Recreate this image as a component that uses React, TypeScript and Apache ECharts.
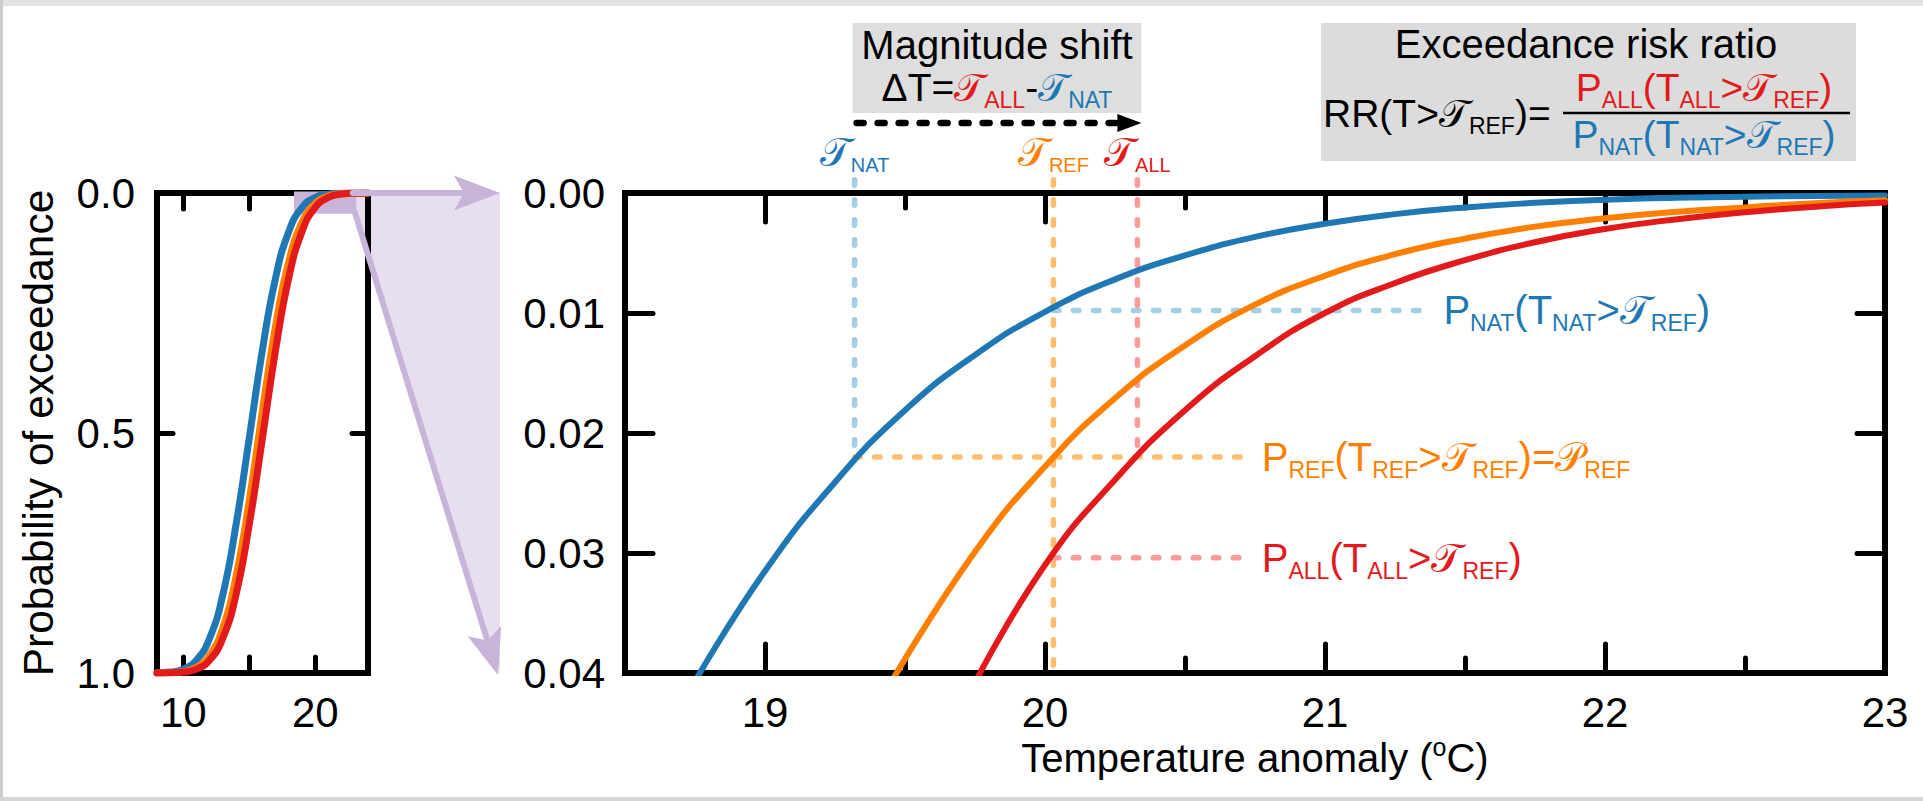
import React, { useEffect, useRef } from 'react';
import * as echarts from 'echarts';

// ---------------- data ----------------
// small (overview) panel: exceedance probability curves
const smallTemps = [8, 9, 10, 11, 12, 13, 14, 15, 16, 17, 18, 19, 20, 21, 22, 23, 24];
const smallNat = [0.9996, 0.998, 0.992, 0.973, 0.927, 0.836, 0.69, 0.51, 0.326, 0.176, 0.08, 0.03, 0.0092, 0.0023, 0.0005, 0.0001, 0.0];
const smallRef = [0.9999, 0.9993, 0.997, 0.988, 0.963, 0.905, 0.798, 0.64, 0.453, 0.276, 0.142, 0.061, 0.0216, 0.0062, 0.0015, 0.0003, 0.0001];
const smallAll = [1.0, 0.9996, 0.998, 0.992, 0.973, 0.927, 0.836, 0.69, 0.51, 0.326, 0.176, 0.08, 0.03, 0.0092, 0.0023, 0.0005, 0.0001];

// main (zoomed) panel
const natTemps = [18.75, 19.0, 19.25, 19.5, 19.75, 20.0, 20.25, 20.5, 20.75, 21.0, 21.25, 21.5, 21.75, 22.0, 22.25, 22.5, 22.75, 23.0];
const natProb = [0.0407, 0.0315, 0.0241, 0.0181, 0.0135, 0.0099, 0.0072, 0.0052, 0.00366, 0.00256, 0.00176, 0.0012, 0.00082, 0.00056, 0.0004, 0.00031, 0.00024, 0.0002];
const refTemps = [19.45, 19.75, 20.0, 20.25, 20.5, 20.75, 21.0, 21.25, 21.5, 21.75, 22.0, 22.25, 22.5, 22.75, 23.0];
const refProb = [0.0408, 0.0299, 0.0228, 0.0171, 0.0127, 0.0093, 0.0069, 0.0051, 0.0038, 0.0028, 0.0021, 0.00158, 0.0012, 0.00085, 0.0006];
const allTemps = [19.75, 20.0, 20.25, 20.5, 20.75, 21.0, 21.25, 21.5, 21.75, 22.0, 22.25, 22.5, 22.75, 23.0];
const allProb = [0.0408, 0.031, 0.0239, 0.0181, 0.0136, 0.01, 0.0075, 0.0056, 0.0041, 0.003, 0.0022, 0.0016, 0.00114, 0.0008];

// thresholds and probabilities
const thresholdTemps = [19.32, 20.03, 20.33]; // T_NAT, T_REF, T_ALL
const thresholdProbs = [0.0098, 0.022, 0.0304]; // P_NAT, P_REF, P_ALL
const guideEnds = [21.38, 20.735]; // end of horizontal guides (NAT, REF/ALL)
const guideTop = [-0.0011];

// axis ranges / ticks
const smallRangeX = [8, 24];
const smallTickRangeX = [10, 20, 5];
const smallRangeY = [0, 1, 0.5];
const zoomRangeX = [18.5, 23, 0.5];
const zoomTickRangeX = [19, 23, 1];
const zoomRangeY = [0, 0.04, 0.01];

// ---------------- styles ----------------
const FONT = "'Liberation Sans', Arial, Helvetica, sans-serif";
const SCRIPT = "'DejaVu Sans', 'Liberation Serif', serif";
const BLUE = '#1f78b4';
const ORANGE = '#ff7f00';
const RED = '#e31a1c';
const LBLUE = '#a6cee3';
const LORANGE = '#fdbf6f';
const LRED = '#fb9a99';
const PURPLE = '#c8b4d8';
const LPURPLE = '#e7dfef';

const zip = (xs: number[], ys: number[]) => xs.map((x, i) => [x, ys[i]]);

function richSet(size: number, sub: number, pad: number) {
  const out: Record<string, any> = {};
  const cols: Record<string, string> = { k: '#000', r: RED, b: BLUE, o: ORANGE };
  Object.keys(cols).forEach((c) => {
    out[c] = { fontSize: size, fontFamily: FONT, fill: cols[c], color: cols[c] };
    out[c + 'T'] = { fontSize: size, fontFamily: SCRIPT, fill: cols[c], color: cols[c] };
    out[c + 'S'] = { fontSize: sub, fontFamily: FONT, fill: cols[c], color: cols[c], padding: [pad, 0, 0, 0] };
  });
  return out;
}

function arrowEls(from: number[], to: number[], color: string, width: number, headLen: number, headW: number, notch: number, dash?: number[]) {
  const dx = to[0] - from[0];
  const dy = to[1] - from[1];
  const L = Math.hypot(dx, dy);
  const ux = dx / L, uy = dy / L;
  const px = -uy, py = ux;
  const base = [to[0] - ux * headLen, to[1] - uy * headLen];
  const np = [to[0] - ux * (headLen - notch), to[1] - uy * (headLen - notch)];
  return [
    {
      type: 'line',
      shape: { x1: from[0], y1: from[1], x2: np[0], y2: np[1] },
      style: { stroke: color, lineWidth: width, lineCap: 'round', lineDash: dash || null },
      z: 4,
    },
    {
      type: 'polygon',
      shape: { points: [to, [base[0] + px * headW, base[1] + py * headW], np, [base[0] - px * headW, base[1] - py * headW]] },
      style: { fill: color },
      z: 4,
    },
  ];
}

function textEl(x: number, y: number, text: string, rich: any, align: string) {
  return {
    type: 'text',
    x,
    y,
    z: 10,
    style: { text, rich, align, verticalAlign: 'middle', textAlign: align, textVerticalAlign: 'middle', font: `40px ${FONT}` },
  };
}

export default function App() {
  const ref = useRef<HTMLDivElement>(null);
  useEffect(() => {
    const chart = echarts.init(ref.current as HTMLDivElement, null, { renderer: 'svg', width: 1923, height: 801 });

    const gS = { left: 157, top: 193, width: 211, height: 480 };
    const sPx = gS.width / (smallRangeX[1] - smallRangeX[0]);
    const gM = { left: 625, top: 193, width: 1260, height: 480 };
    const mPx = gM.width / (zoomRangeX[1] - zoomRangeX[0]);

    const frameLine = { show: true, onZero: false, lineStyle: { color: '#000', width: 6, cap: 'square' } };
    const noLine = { show: false, onZero: false };
    const tick = (len: number) => ({ show: true, inside: true, length: len, lineStyle: { color: '#000', width: 5, cap: 'round' } });
    const noTick = { show: false };
    const noLabel = { show: false };
    const noSplit = { show: false };
    const lbl = (margin: number, formatter: any) => ({ show: true, fontSize: 42, color: '#000', fontFamily: FONT, margin, formatter });

    const base = { type: 'value', splitLine: noSplit, silent: true, axisPointer: { show: false } };

    const curve = (xi: number, yi: number, data: number[][], color: string, width: number) => ({
      type: 'line',
      xAxisIndex: xi,
      yAxisIndex: yi,
      data,
      symbol: 'none',
      showSymbol: false,
      smooth: 0.5,
      silent: true,
      z: 3,
      lineStyle: { color, width, cap: 'round', join: 'round' },
    });
    const guide = (data: number[][], color: string) => ({
      type: 'line',
      xAxisIndex: 4,
      yAxisIndex: 3,
      data,
      symbol: 'none',
      showSymbol: false,
      clip: false,
      silent: true,
      z: 1,
      lineStyle: { color, width: 5.5, type: [5.5, 14.5], cap: 'round' },
    });

    const [tNat, tRef, tAll] = thresholdTemps;
    const [pNat, pRef, pAll] = thresholdProbs;

    const option: any = {
      animation: false,
      backgroundColor: '#ffffff',
      grid: [
        { ...gS, outerBoundsMode: 'none' },
        { left: gS.left + (smallTickRangeX[0] - smallRangeX[0]) * sPx, top: gS.top, width: (smallTickRangeX[1] - smallTickRangeX[0]) * sPx, height: gS.height, outerBoundsMode: 'none' },
        { ...gM, outerBoundsMode: 'none' },
        { left: gM.left + (zoomTickRangeX[0] - zoomRangeX[0]) * mPx, top: gM.top, width: (zoomTickRangeX[1] - zoomTickRangeX[0]) * mPx, height: gM.height, outerBoundsMode: 'none' },
      ],
      xAxis: [
        { ...base, gridIndex: 0, min: smallRangeX[0], max: smallRangeX[1], position: 'bottom', axisLine: frameLine, axisTick: noTick, axisLabel: noLabel },
        { ...base, gridIndex: 0, min: smallRangeX[0], max: smallRangeX[1], position: 'top', axisLine: frameLine, axisTick: noTick, axisLabel: noLabel },
        { ...base, gridIndex: 1, min: smallTickRangeX[0], max: smallTickRangeX[1], interval: smallTickRangeX[2], position: 'bottom', axisLine: noLine, axisTick: tick(16), axisLabel: lbl(18, (v: number) => (v === 15 ? '' : String(v))) },
        { ...base, gridIndex: 1, min: smallTickRangeX[0], max: smallTickRangeX[1], interval: smallTickRangeX[2], position: 'top', axisLine: noLine, axisTick: tick(16), axisLabel: noLabel },
        {
          ...base, gridIndex: 2, min: zoomRangeX[0], max: zoomRangeX[1], interval: zoomRangeX[2], position: 'bottom', axisLine: frameLine, axisTick: tick(15), axisLabel: noLabel,
          name: 'Temperature anomaly ({sup|o}C)', nameLocation: 'middle', nameGap: 61,
          nameTextStyle: { fontSize: 40, color: '#000', fontFamily: FONT, rich: { sup: { fontSize: 25, color: '#000', fontFamily: FONT, padding: [0, 0, 22, 0] } } },
        },
        { ...base, gridIndex: 2, min: zoomRangeX[0], max: zoomRangeX[1], interval: zoomRangeX[2], position: 'top', axisLine: frameLine, axisTick: tick(15), axisLabel: noLabel },
        { ...base, gridIndex: 3, min: zoomTickRangeX[0], max: zoomTickRangeX[1], interval: zoomTickRangeX[2], position: 'bottom', axisLine: noLine, axisTick: tick(29), axisLabel: lbl(18, (v: number) => String(v)) },
        { ...base, gridIndex: 3, min: zoomTickRangeX[0], max: zoomTickRangeX[1], interval: zoomTickRangeX[2], position: 'top', axisLine: noLine, axisTick: tick(29), axisLabel: noLabel },
      ],
      yAxis: [
        {
          ...base, gridIndex: 0, min: smallRangeY[0], max: smallRangeY[1], interval: smallRangeY[2], inverse: true, position: 'left', axisLine: frameLine, axisTick: tick(16),
          axisLabel: lbl(22, (v: number) => v.toFixed(1)),
          name: 'Probability of exceedance', nameLocation: 'middle', nameRotate: 90, nameGap: 97,
          nameTextStyle: { fontSize: 42.5, color: '#000', fontFamily: FONT },
        },
        { ...base, gridIndex: 0, min: smallRangeY[0], max: smallRangeY[1], interval: smallRangeY[2], inverse: true, position: 'right', axisLine: frameLine, axisTick: tick(16), axisLabel: noLabel },
        { ...base, gridIndex: 1, min: smallRangeY[0], max: smallRangeY[1], show: false },
        { ...base, gridIndex: 2, min: zoomRangeY[0], max: zoomRangeY[1], interval: zoomRangeY[2], inverse: true, position: 'left', axisLine: frameLine, axisTick: tick(28), axisLabel: lbl(20, (v: number) => v.toFixed(2)) },
        { ...base, gridIndex: 2, min: zoomRangeY[0], max: zoomRangeY[1], interval: zoomRangeY[2], inverse: true, position: 'right', axisLine: frameLine, axisTick: tick(28), axisLabel: noLabel },
        { ...base, gridIndex: 3, min: zoomRangeY[0], max: zoomRangeY[1], show: false },
      ],
      series: [
        {
          type: 'line', xAxisIndex: 0, yAxisIndex: 0, data: [[zoomRangeX[1], zoomRangeY[0]]], symbol: 'none', showSymbol: false, silent: true, z: 2,
          lineStyle: { width: 0 },
          markArea: {
            silent: true,
            itemStyle: { color: PURPLE, borderColor: PURPLE, borderWidth: 3 },
            data: [[{ coord: [zoomRangeX[0], zoomRangeY[0]] }, { coord: [zoomRangeX[1], zoomRangeY[1]] }]],
          },
        },
        curve(0, 0, zip(smallTemps, smallNat), BLUE, 7),
        curve(0, 0, zip(smallTemps, smallRef), ORANGE, 7),
        curve(0, 0, zip(smallTemps, smallAll), RED, 7),
        guide([[tNat, guideTop[0]], [tNat, pRef]], LBLUE),
        guide([[tRef, pNat], [guideEnds[0], pNat]], LBLUE),
        guide([[tRef, guideTop[0]], [tRef, zoomRangeY[1]]], LORANGE),
        guide([[tNat, pRef], [guideEnds[1], pRef]], LORANGE),
        guide([[tAll, guideTop[0]], [tAll, pRef]], LRED),
        guide([[tRef, pAll], [guideEnds[1], pAll]], LRED),
        curve(4, 3, zip(natTemps, natProb), BLUE, 6),
        curve(4, 3, zip(refTemps, refProb), ORANGE, 6),
        curve(4, 3, zip(allTemps, allProb), RED, 6),
      ],
    };
    chart.setOption(option);

    const toMain = (p: number[]) => chart.convertToPixel({ xAxisIndex: 4, yAxisIndex: 3 } as any, p) as unknown as number[];
    const toSmall = (p: number[]) => chart.convertToPixel({ xAxisIndex: 0, yAxisIndex: 0 } as any, p) as unknown as number[];

    const a = toSmall([zoomRangeX[1], zoomRangeY[0]]);
    const b = toSmall([zoomRangeX[1], zoomRangeY[1]]);
    const m0 = toMain([zoomRangeX[0], zoomRangeY[0]]);
    const m1 = toMain([zoomRangeX[0], zoomRangeY[1]]);
    const tipX = m0[0] - 125;

    const xNat = toMain([tNat, 0])[0];
    const xRef = toMain([tRef, 0])[0];
    const xAll = toMain([tAll, 0])[0];
    const arrowY = m0[1] - 70;

    const richP = richSet(40, 23, 26);
    const richBox = richSet(39, 23, 26);
    const richTop = richSet(40, 20, 26);

    const natLbl = toMain([guideEnds[0], pNat]);
    const refLbl = toMain([guideEnds[1], pRef]);
    const allLbl = toMain([guideEnds[1], pAll]);

    const graphic: any[] = [
      // screenshot edges
      { type: 'rect', shape: { x: 0, y: 0, width: 1923, height: 6 }, style: { fill: '#e3e3e3' }, z: -5 },
      { type: 'rect', shape: { x: 0, y: 0, width: 3, height: 801 }, style: { fill: '#cdcdcd' }, z: -5 },
      { type: 'rect', shape: { x: 0, y: 797, width: 1923, height: 4 }, style: { fill: '#d6d6d6' }, z: -5 },
      // zoom funnel
      { type: 'polygon', shape: { points: [a, [tipX, a[1]], [tipX, m1[1] + 2], b] }, style: { fill: LPURPLE }, z: -1 },
      ...arrowEls([a[0] - 2, a[1]], [tipX, a[1]], PURPLE, 6, 46, 17.5, 10),
      ...arrowEls([b[0], b[1]], [tipX - 2, m1[1] + 2], PURPLE, 6, 46, 17.5, 10),
      // magnitude shift box
      { type: 'rect', shape: { x: xNat - 2, y: 23, width: xAll + 4 - (xNat - 2), height: 90 }, style: { fill: '#dedede' }, z: 5 },
      textEl((xNat + xAll) / 2 + 1, 45, 'Magnitude shift', richBox, 'center'),
      { ...textEl((xNat + xAll) / 2 + 1, 87, '{k|ΔT=}{rT|𝒯}{rS|ALL}{k|-}{bT|𝒯}{bS|NAT}', richBox, 'center') },
      ...arrowEls([xNat + 2, arrowY], [xAll + 4, arrowY], '#000', 6.5, 24, 9, 0, [7, 14]),
      // threshold labels
      textEl(xNat, m0[1] - 41, '{bT|𝒯}{bS|NAT}', richTop, 'center'),
      textEl(xRef, m0[1] - 41, '{oT|𝒯}{oS|REF}', richTop, 'center'),
      textEl(xAll, m0[1] - 41, '{rT|𝒯}{rS|ALL}', richTop, 'center'),
      // risk ratio box
      { type: 'rect', shape: { x: 1321, y: 23, width: 535, height: 138 }, style: { fill: '#dcdcdc' }, z: 5 },
      textEl(1586, 44, 'Exceedance risk ratio', richBox, 'center'),
      textEl(1323, 113, '{k|RR(T>}{kT|𝒯}{kS|REF}{k|)=}', richBox, 'left'),
      textEl(1704, 87, '{r|P}{rS|ALL}{r|(T}{rS|ALL}{r|>}{rT|𝒯}{rS|REF}{r|)}', richBox, 'center'),
      textEl(1704, 134, '{b|P}{bS|NAT}{b|(T}{bS|NAT}{b|>}{bT|𝒯}{bS|REF}{b|)}', richBox, 'center'),
      { type: 'line', shape: { x1: 1563, y1: 113, x2: 1850, y2: 113 }, style: { stroke: '#000', lineWidth: 2.5 }, z: 10 },
      // probability labels
      textEl(natLbl[0] + 12, natLbl[1] - 1, '{b|P}{bS|NAT}{b|(T}{bS|NAT}{b|>}{bT|𝒯}{bS|REF}{b|)}', richP, 'left'),
      textEl(refLbl[0] + 11, refLbl[1], '{o|P}{oS|REF}{o|(T}{oS|REF}{o|>}{oT|𝒯}{oS|REF}{o|)=}{oT|𝒫}{oS|REF}', richP, 'left'),
      textEl(allLbl[0] + 11, allLbl[1], '{r|P}{rS|ALL}{r|(T}{rS|ALL}{r|>}{rT|𝒯}{rS|REF}{r|)}', richP, 'left'),
    ];
    chart.setOption({ graphic });

    return () => chart.dispose();
  }, []);
  return <div ref={ref} style={{ position: 'fixed', left: 0, top: 0, width: 1923, height: 801, background: '#fff' }} />;
}
